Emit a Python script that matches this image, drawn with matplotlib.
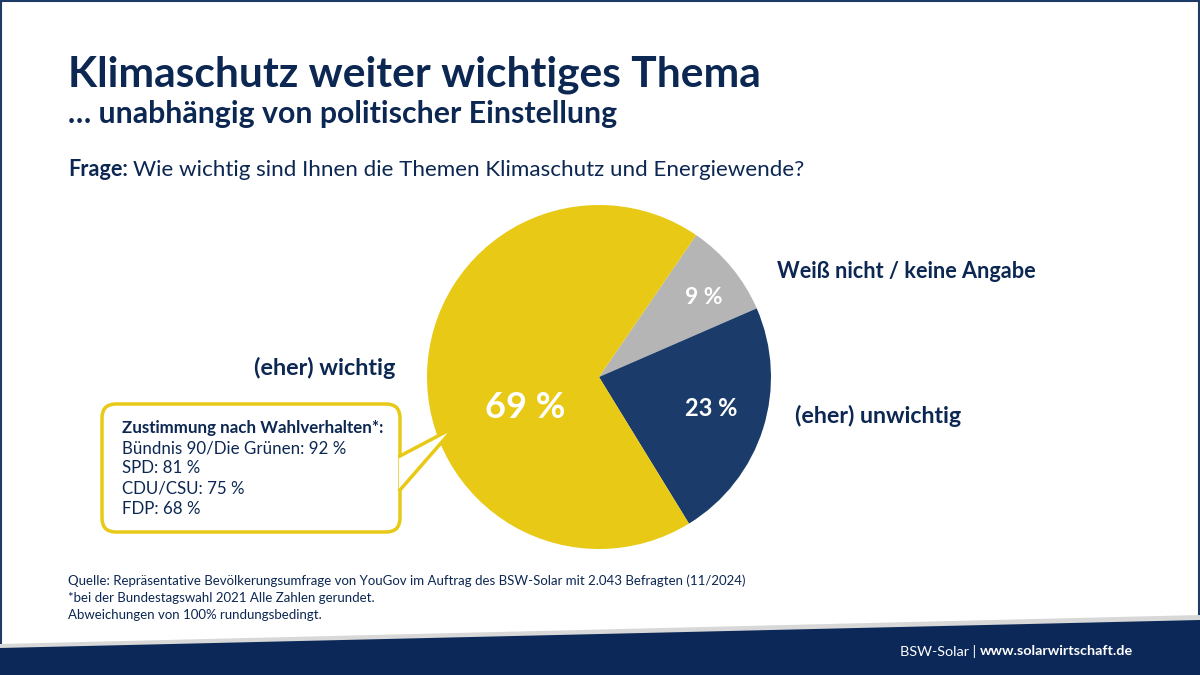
import matplotlib
matplotlib.use("Agg")
import matplotlib.pyplot as plt
from matplotlib.patches import FancyBboxPatch, Polygon, Rectangle

# ---- data ----
categories = ["Weiß nicht / keine Angabe", "(eher) unwichtig", "(eher) wichtig"]
values = [9, 23, 69]
value_labels = ["9 %", "23 %", "69 %"]
colors = ["#B5B5B5", "#1B3C6A", "#E8C916"]
parties = ["Bündnis 90/Die Grünen", "SPD", "CDU/CSU", "FDP"]
party_values = [92, 81, 75, 68]

NAVY = "#0C2752"
FONT = ["Lato", "DejaVu Sans"]
plt.rcParams['font.family'] = FONT

fig = plt.figure(figsize=(12, 6.75), dpi=100)
ax = fig.add_axes([0, 0, 1, 1])
ax.set_xlim(0, 1200)
ax.set_ylim(675, 0)
ax.axis("off")
ax.set_zorder(2)
renderer = fig.canvas.get_renderer()


def fit(t, width):
    """scale a text's font size so that it spans the given pixel width"""
    bb = t.get_window_extent(renderer=renderer)
    t.set_fontsize(t.get_fontsize() * width / bb.width)
    return t


# frame border
ax.add_patch(Rectangle((1, 1), 1198, 673, fill=False, edgecolor="#1E3A66", lw=1.5, zorder=1))

# bottom band with shadow
ax.add_patch(Polygon([(0, 644), (1200, 615), (1200, 625), (0, 652)], closed=True,
                     facecolor="#D8D8D8", edgecolor="none", zorder=2))
ax.add_patch(Polygon([(0, 648), (1200, 620), (1200, 675), (0, 675)], closed=True,
                     facecolor="#0B2858", edgecolor="none", zorder=3))

# titles
fit(ax.text(68, 86, "Klimaschutz weiter wichtiges Thema", fontsize=30, fontweight="bold",
            color=NAVY, ha="left", va="baseline"), 692)
fit(ax.text(68, 123, "… unabhängig von politischer Einstellung", fontsize=18, fontweight="bold",
            color=NAVY, ha="left", va="baseline"), 549)
f1 = ax.text(68, 176, "Frage:", fontsize=16, fontweight="bold", color=NAVY, ha="left", va="baseline")
fit(f1, 60)
fit(ax.text(133, 176, "Wie wichtig sind Ihnen die Themen Klimaschutz und Energiewende?", fontsize=16,
            color=NAVY, ha="left", va="baseline"), 672)

# pie
cx, cy, r = 599, 377, 172
pax = fig.add_axes([(cx - r) / 1200, (675 - cy - r) / 675, 2 * r / 1200, 2 * r / 675])
pax.set_zorder(1)
wedges, _ = pax.pie(values, colors=colors, startangle=55.6, counterclock=False,
                    wedgeprops=dict(linewidth=0))
pax.set_xlim(-1, 1)
pax.set_ylim(-1, 1)
pax.set_aspect("equal")
pax.axis("off")

# value labels inside slices (pixel positions)
ax.text(704, 297, value_labels[0], fontsize=16.5, fontweight="bold", color="white", ha="center", va="center")
ax.text(711, 408, value_labels[1], fontsize=17, fontweight="bold", color="white", ha="center", va="center")
ax.text(525, 408, value_labels[2], fontsize=26, fontweight="bold", color="white", ha="center", va="center")

# category labels
fit(ax.text(777, 272, categories[0], fontsize=17, fontweight="bold", color=NAVY, ha="left", va="center"), 258)
fit(ax.text(795, 416, categories[1], fontsize=17, fontweight="bold", color=NAVY, ha="left", va="center"), 167)
fit(ax.text(395, 368, categories[2], fontsize=17, fontweight="bold", color=NAVY, ha="right", va="center"), 142)

# callout
box = FancyBboxPatch((102, 404), 298, 128, boxstyle="round,pad=0,rounding_size=14",
                     facecolor="white", edgecolor="#E8C916", lw=2.5, zorder=5)
ax.add_patch(box)
ax.add_patch(Polygon([(399, 456), (455, 427), (399, 490)], closed=True,
                     facecolor="white", edgecolor="none", zorder=6))
ax.plot([400, 455, 400], [456, 427, 490], color="#E8C916", lw=2.5, zorder=6,
        solid_joinstyle="miter")
hdr = fit(ax.text(122, 428, "Zustimmung nach Wahlverhalten*:", fontsize=12.5, fontweight="bold",
                  color=NAVY, ha="left", va="center", zorder=7), 261)
fs = hdr.get_fontsize()
for i, (p, v) in enumerate(zip(parties, party_values)):
    ax.text(122, 448 + i * 20.3, f"{p}: {v} %", fontsize=fs, color=NAVY,
            ha="left", va="center", zorder=7)

# footer notes
notes = ["Quelle: Repräsentative Bevölkerungsumfrage von YouGov im Auftrag des BSW-Solar mit 2.043 Befragten (11/2024)",
         "*bei der Bundestagswahl 2021 Alle Zahlen gerundet.",
         "Abweichungen von 100% rundungsbedingt."]
q = fit(ax.text(68, 581, notes[0], fontsize=9.5, color=NAVY, ha="left", va="center", zorder=7), 684)
for i, n in enumerate(notes[1:], start=1):
    ax.text(68, 581 + i * 17, n, fontsize=q.get_fontsize(), color=NAVY, ha="left", va="center", zorder=7)

w = fit(ax.text(1133, 651, "www.solarwirtschaft.de", fontsize=10.5, fontweight="bold", color="white",
                ha="right", va="center", zorder=7), 154)
ax.text(976, 651, "BSW-Solar |", fontsize=w.get_fontsize(), color="white", ha="right", va="center", zorder=7)

fig.savefig("out.png", dpi=100)
